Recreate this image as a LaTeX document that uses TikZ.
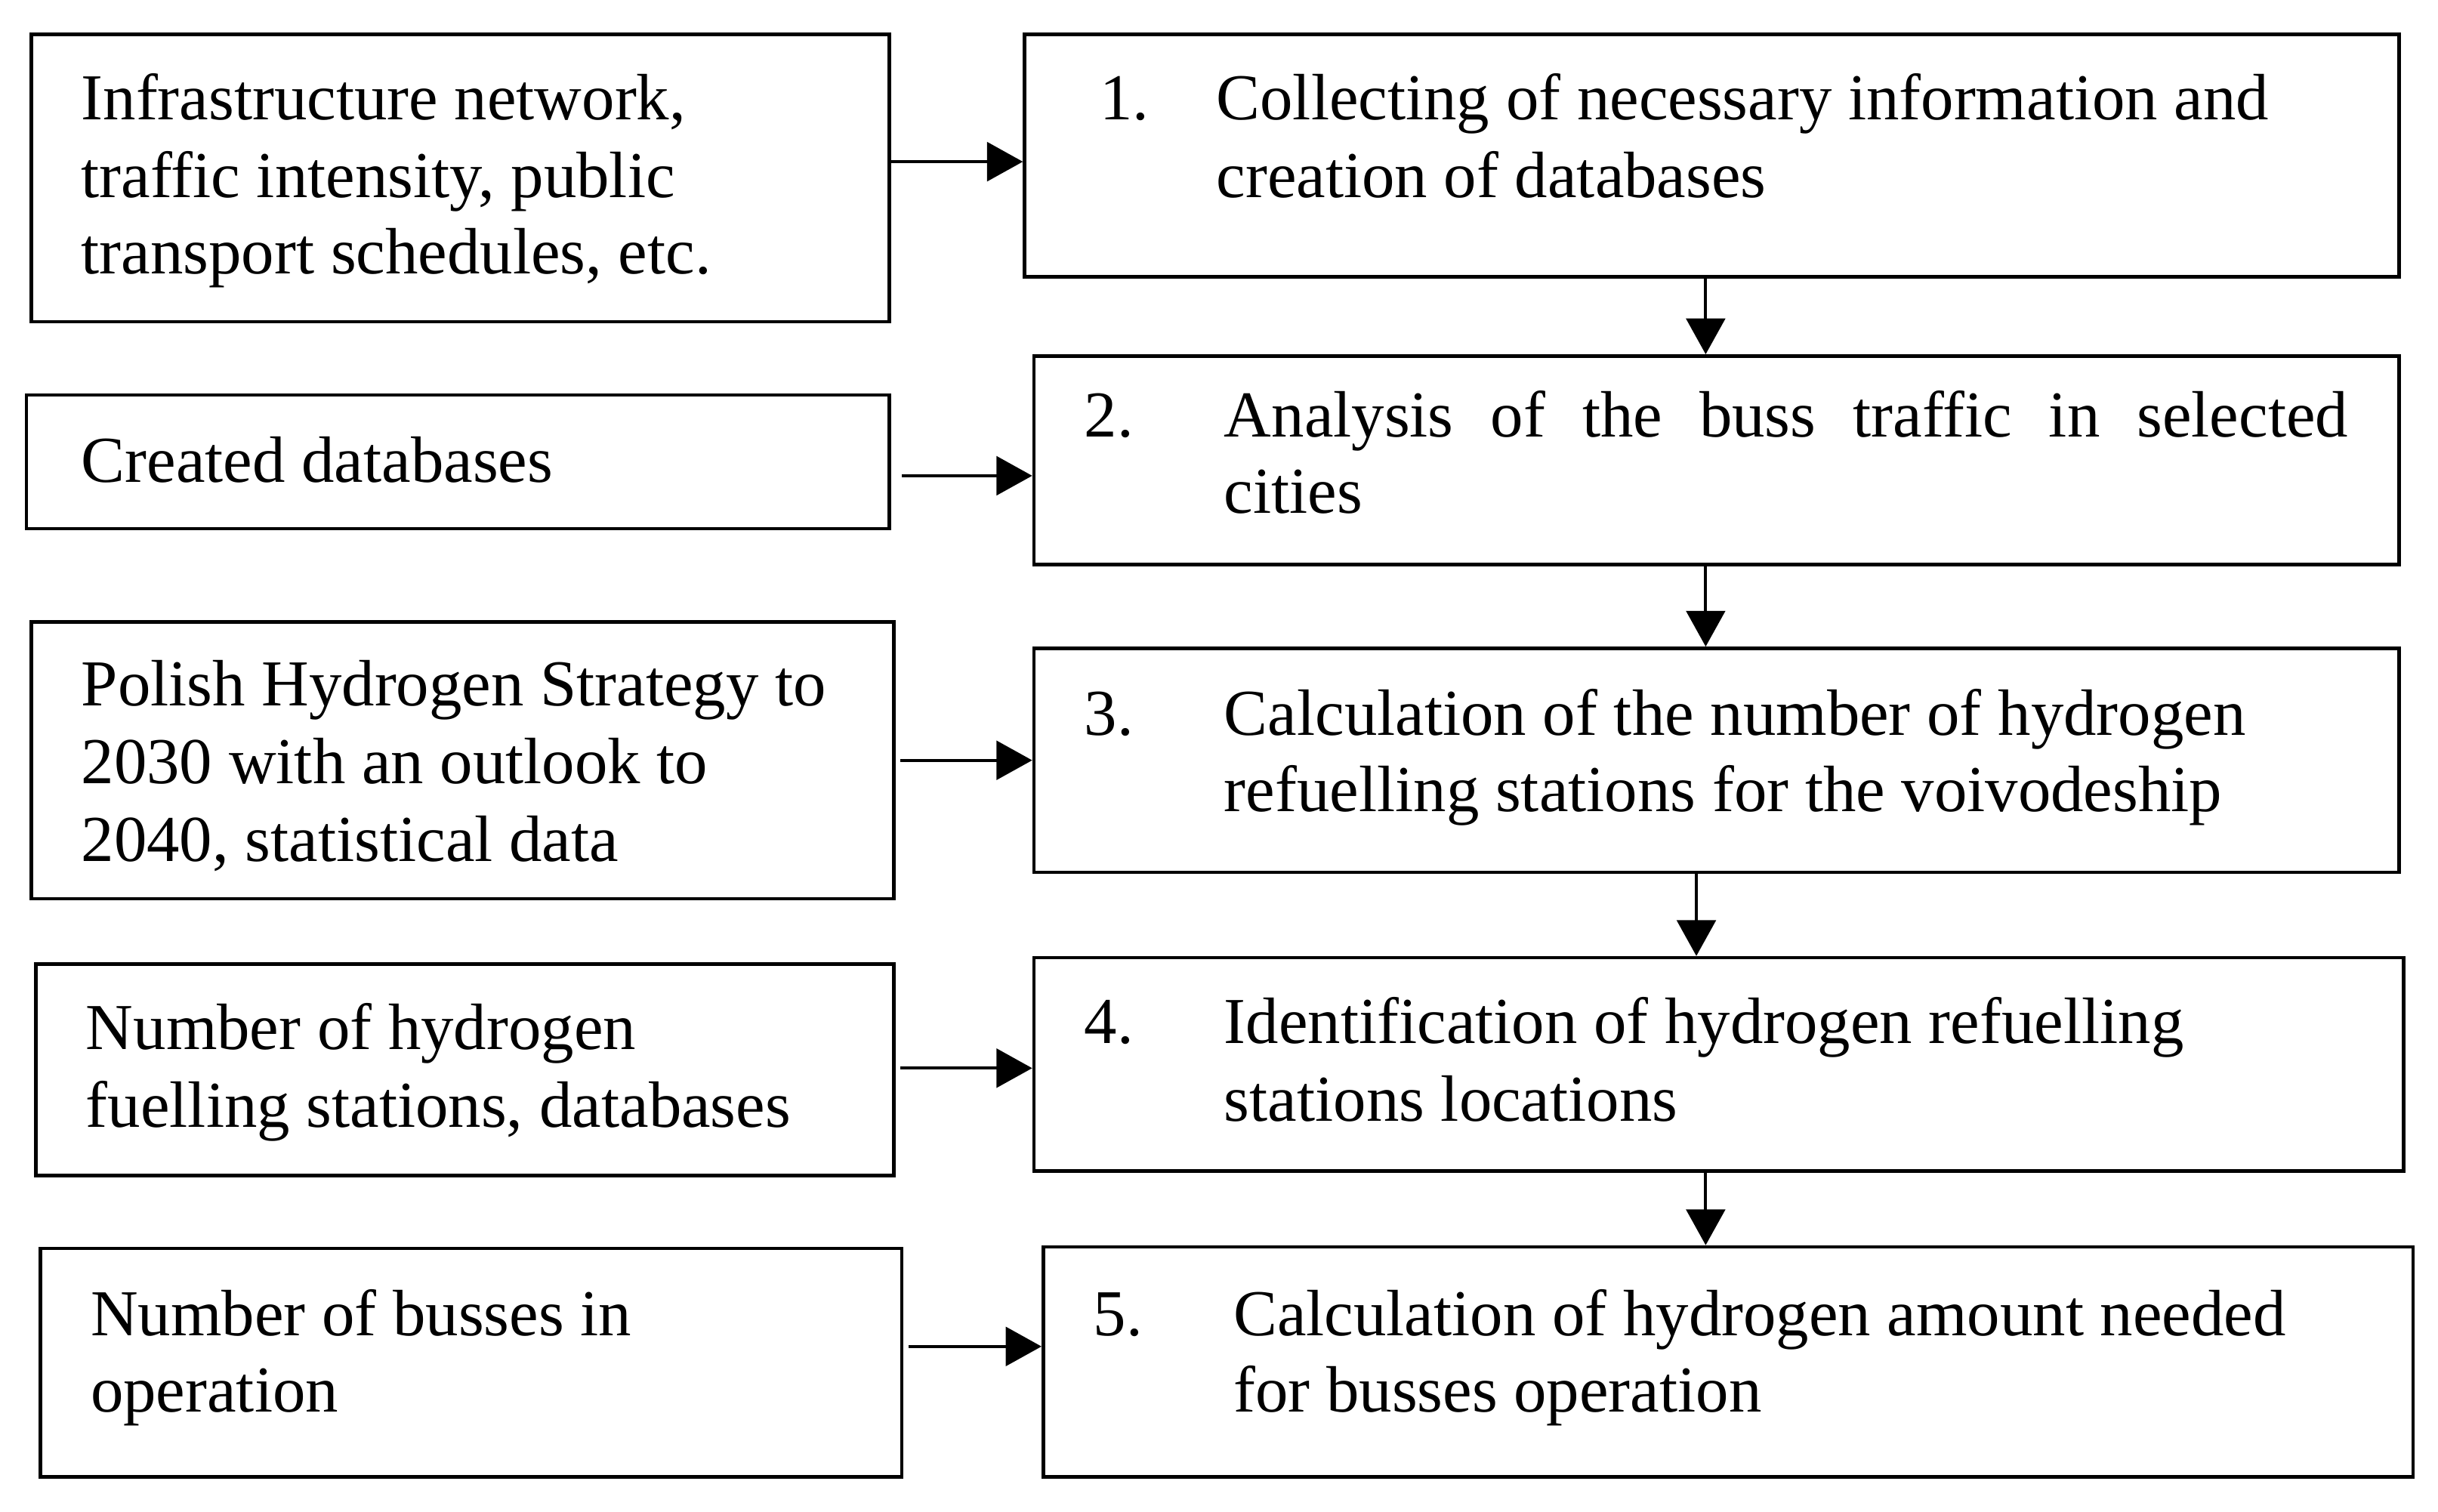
\documentclass[tikz,border=0pt]{standalone}
\usepackage{fontspec}
\setmainfont{Liberation Serif}
\usetikzlibrary{arrows.meta,fit}
\begin{document}
\begin{tikzpicture}[x=0.02cm,y=-0.02cm,
  box/.style={draw=black,line width=1.3pt,inner sep=0pt,rectangle},
  txt/.style={anchor=base west,inner sep=0pt,font=\fontsize{24}{28.5}\selectfont},
  arr/.style={line width=1.1pt,-{Triangle[length=0.46cm,width=0.5cm]}}]
\fill[white] (0,0) rectangle (1568,972);
\useasboundingbox (0,0) rectangle (1568,972);
% left boxes
\node[box,fit={(20,22) (572,207)}] (L1) {};
\node[box,fit={(17,254) (572,340)}] (L2) {};
\node[box,fit={(20,400) (575,578)}] (L3) {};
\node[box,fit={(23,620) (575,756)}] (L4) {};
\node[box,fit={(26,803) (580,950)}] (L5) {};
% right boxes
\node[box,fit={(659,22) (1543,178)}] (R1) {};
\node[box,fit={(665,229) (1543,363)}] (R2) {};
\node[box,fit={(665,417) (1543,561)}] (R3) {};
\node[box,fit={(665,616) (1546,753)}] (R4) {};
\node[box,fit={(671,802) (1552,950)}] (R5) {};
% left texts
\node[txt] (l1a) at (52,77) {Infrastructure network,};
\node[txt] (l1b) at (52,127) {traffic intensity, public};
\node[txt] (l1c) at (52,176) {transport schedules, etc.};
\node[txt] (l2a) at (52,310) {Created databases};
\node[txt] (l3a) at (52,454) {Polish Hydrogen Strategy to};
\node[txt] (l3b) at (52,504) {2030 with an outlook to};
\node[txt] (l3c) at (52,554) {2040, statistical data};
\node[txt] (l4a) at (55,675) {Number of hydrogen};
\node[txt] (l4b) at (55,725) {fuelling stations, databases};
\node[txt] (l5a) at (58,859) {Number of busses in};
\node[txt] (l5b) at (58,908) {operation};
% right texts
\node[txt] (n1) at (707,77) {1.};
\node[txt] (r1a) at (782,77) {Collecting of necessary information and};
\node[txt] (r1b) at (782,127) {creation of databases};
\node[txt] (n2) at (697,281) {2.};
\node[txt] (r2a) at (787,281) {\makebox[14.46cm][s]{Analysis of the buss traffic in selected}};
\node[txt] (r2b) at (787,330) {cities};
\node[txt] (n3) at (697,473) {3.};
\node[txt] (r3a) at (787,473) {Calculation of the number of hydrogen};
\node[txt] (r3b) at (787,522) {refuelling stations for the voivodeship};
\node[txt] (n4) at (697,671) {4.};
\node[txt] (r4a) at (787,671) {Identification of hydrogen refuelling};
\node[txt] (r4b) at (787,721) {stations locations};
\node[txt] (n5) at (703,859) {5.};
\node[txt] (r5a) at (793,859) {Calculation of hydrogen amount needed};
\node[txt] (r5b) at (793,908) {for busses operation};
% horizontal arrows
\draw[arr] (L1.east |- 0,104) -- (R1.west |- 0,104);
\draw[arr,shorten <=0.14cm] (L2.east |- 0,306) -- (R2.west |- 0,306);
\draw[arr,shorten <=0.06cm] (L3.east |- 0,489) -- (R3.west |- 0,489);
\draw[arr,shorten <=0.06cm] (L4.east |- 0,687) -- (R4.west |- 0,687);
\draw[arr,shorten <=0.06cm] (L5.east |- 0,866) -- (R5.west |- 0,866);
% vertical arrows
\draw[arr] (R1.south -| 1097,0) -- (R2.north -| 1097,0);
\draw[arr] (R2.south -| 1097,0) -- (R3.north -| 1097,0);
\draw[arr] (R3.south -| 1091,0) -- (R4.north -| 1091,0);
\draw[arr] (R4.south -| 1097,0) -- (R5.north -| 1097,0);
\end{tikzpicture}
\end{document}
